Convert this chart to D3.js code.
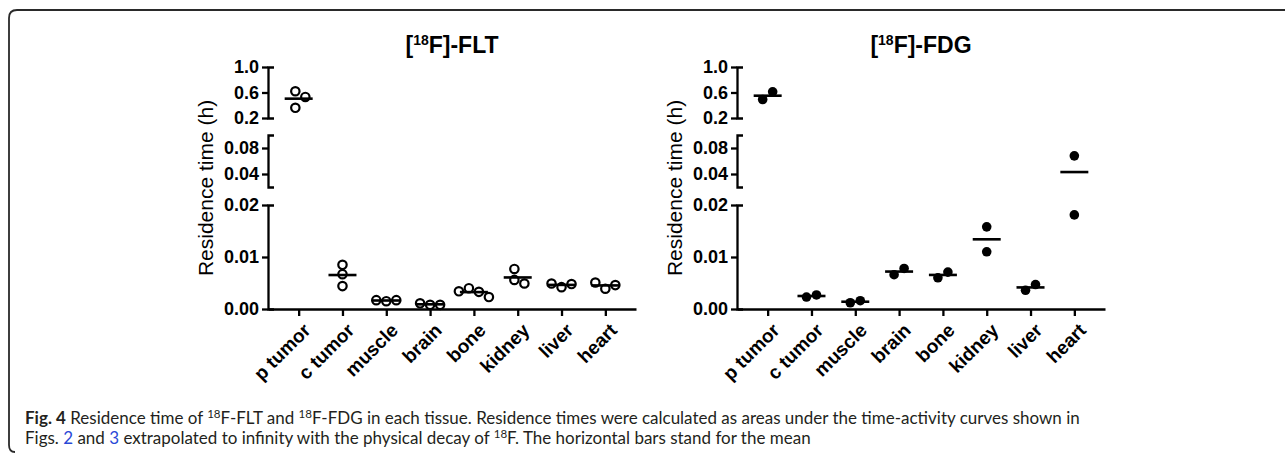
<!DOCTYPE html>
<html>
<head>
<meta charset="utf-8">
<script src="https://cdn.jsdelivr.net/npm/d3@7"></script>
<style>
    body { margin: 0; background: #ffffff; }
    svg { display: block; }
</style>
</head>
<body>
<svg id="figure" width="1285" height="453"></svg>
<script>
const tissues = ["p tumor", "c tumor", "muscle", "brain", "bone", "kidney", "liver", "heart"];

// residence time (h) per animal, one list per tissue
const fltValues = [
    [0.62, 0.53, 0.36],
    [0.0085, 0.0067, 0.0044],
    [0.0015, 0.0017, 0.0017],
    [0.0008, 0.0008, 0.0011],
    [0.0040, 0.0033, 0.0034, 0.0023],
    [0.0077, 0.0056, 0.0049],
    [0.0042, 0.0048, 0.0049],
    [0.0039, 0.0046, 0.0051]
];
const fdgValues = [
    [0.49, 0.61],
    [0.0023, 0.0027],
    [0.0012, 0.0016],
    [0.0066, 0.0078],
    [0.0060, 0.0071],
    [0.0158, 0.0110],
    [0.0036, 0.0047],
    [0.0181, 0.0679]
];

// the y axis is broken into three pieces
const segmentDomains = [[0, 0.02], [0.02, 0.1], [0.2, 1.0]];
const segmentTicks = [[0, 0.01, 0.02], [0.04, 0.08], [0.2, 0.6, 1.0]];
const segmentTickLabels = [["0.00", "0.01", "0.02"], ["0.04", "0.08"], ["0.2", "0.6", "1.0"]];

const panelTracers = ["FLT", "FDG"];
const yAxisTitle = "Residence time (h)";

const captionLines = [
    [["Fig. 4", "bold"], [" Residence time of ", ""], ["18", "sup"], ["F-FLT and ", ""], ["18", "sup"],
     ["F-FDG in each tissue. Residence times were calculated as areas under the time-activity curves shown in", ""]],
    [["Figs. ", ""], ["2", "link"], [" and ", ""], ["3", "link"], [" extrapolated to infinity with the physical decay of ", ""],
     ["18", "sup"], ["F. The horizontal bars stand for the mean", ""]]
];

const svg = d3.select("#figure");
const chartFont = "Liberation Sans, Arial, sans-serif";

// figure frame (rounded top-left corner, runs off to the right)
svg.append("path")
    .attr("d", "M1290,10 H17 Q9,10 9,18 V445 Q9,452 15,452")
    .attr("fill", "none")
    .attr("stroke", "#2a2a2a")
    .attr("stroke-width", 1.8);

const segmentRanges = [[309, 205], [187, 135], [118, 67]];
const segmentScales = segmentDomains.map((dom, i) => d3.scaleLinear().domain(dom).range(segmentRanges[i]));
const segmentOf = v => v <= 0.02 ? 0 : (v <= 0.1 ? 1 : 2);
const yPos = v => segmentScales[segmentOf(v)](v);

const dotRadius = 4.8;

// simple swarm: put each point at the centre unless it would overlap, then centre the group
const placeGroup = (vals, cx) => {
    const placed = [];
    vals.forEach(v => {
        const y = yPos(v);
        let off = 0;
        for (let k = 0; k < 20; k++) {
            const cand = k === 0 ? 0 : (k % 2 ? 1 : -1) * Math.ceil(k / 2) * 10;
            if (placed.every(p => Math.hypot(p.dx - cand, p.y - y) >= 9)) { off = cand; break; }
        }
        placed.push({ v: v, y: y, dx: off });
    });
    const shift = d3.mean(placed, p => p.dx);
    placed.forEach(p => p.x = cx + p.dx - shift);
    return placed;
};

const renderPanel = (tracer, values, left, filled) => {
    const right = left + 368;
    const chart = svg.append("g").attr("class", "panel-" + tracer);

    const xScale = d3.scalePoint().domain(tissues).range([left, right]).padding(0.7);

    // title with superscript
    const title = chart.append("text")
        .attr("x", (left + right) / 2)
        .attr("y", 53)
        .attr("text-anchor", "middle")
        .attr("font-family", chartFont)
        .attr("font-weight", "bold")
        .attr("font-size", 23);
    title.append("tspan").text("[");
    title.append("tspan").attr("font-size", 14).attr("dy", -8).text("18");
    title.append("tspan").attr("dy", 8).text("F]-" + tracer);

    // y axis segments
    segmentScales.forEach((scale, i) => {
        const axis = d3.axisLeft(scale)
            .tickValues(segmentTicks[i])
            .tickFormat((d, j) => segmentTickLabels[i][j])
            .tickSize(6)
            .tickSizeOuter(-6)
            .tickPadding(3);
        const g = chart.append("g")
            .attr("transform", `translate(${left},0)`)
            .call(axis);
        g.selectAll("path, line").attr("stroke", "#000").attr("stroke-width", 2.3);
        g.selectAll("text")
            .attr("font-family", chartFont)
            .attr("font-weight", "bold")
            .attr("font-size", 18)
            .attr("fill", "#000");
    });

    // x axis
    const xAxis = chart.append("g")
        .attr("transform", `translate(0,${segmentRanges[0][0]})`)
        .call(d3.axisBottom(xScale).tickSize(7).tickSizeOuter(0).tickPadding(4));
    xAxis.selectAll("path, line").attr("stroke", "#000").attr("stroke-width", 2.3);
    xAxis.selectAll("text")
        .attr("font-family", chartFont)
        .attr("font-weight", "bold")
        .attr("font-size", 19)
        .attr("fill", "#000")
        .attr("text-anchor", "end")
        .attr("dy", "0.35em")
        .attr("transform", "translate(0,10) rotate(-45)");

    // y axis title
    chart.append("text")
        .attr("transform", `translate(${left - 55},${188}) rotate(-90)`)
        .attr("text-anchor", "middle")
        .attr("font-family", chartFont)
        .attr("font-size", 21)
        .attr("fill", "#000")
        .text(yAxisTitle);

    // points
    const groups = values.map((vals, i) => ({
        tissue: tissues[i],
        mean: d3.mean(vals),
        points: placeGroup(vals, xScale(tissues[i]))
    }));

    chart.selectAll(".dot")
        .data(groups.flatMap(g => g.points))
        .join("circle")
        .attr("class", "dot")
        .attr("cx", d => d.x)
        .attr("cy", d => d.y)
        .attr("r", filled ? dotRadius : dotRadius - 0.6)
        .attr("fill", filled ? "#000" : "none")
        .attr("stroke", "#000")
        .attr("stroke-width", filled ? 0 : 2.2);

    chart.selectAll(".mean-line")
        .data(groups)
        .join("line")
        .attr("class", "mean-line")
        .attr("x1", d => xScale(d.tissue) - 14)
        .attr("x2", d => xScale(d.tissue) + 14)
        .attr("y1", d => yPos(d.mean))
        .attr("y2", d => yPos(d.mean))
        .attr("stroke", "#000")
        .attr("stroke-width", 2.6);
};

renderPanel(panelTracers[0], fltValues, 268, false);
renderPanel(panelTracers[1], fdgValues, 737, true);

// caption: size each line so it spans the same width as in the figure
const captionWidths = [1106, 860];
const baseSize = 16.5;
captionLines.forEach((parts, li) => {
    const t = svg.append("text")
        .attr("x", 25)
        .attr("y", 423.5 + li * 20.5)
        .attr("font-family", "Lato, Open Sans, sans-serif")
        .attr("font-size", baseSize)
        .attr("fill", "#231f20");
    let raised = false;
    parts.forEach(([str, kind]) => {
        const s = t.append("tspan").attr("class", kind).text(str);
        if (kind === "bold") s.attr("font-weight", "bold");
        if (kind === "link") s.attr("fill", "#2a48d6");
        if (kind === "sup") { s.attr("font-size", baseSize * 0.68).attr("dy", -6); raised = true; }
        else if (raised) { s.attr("dy", 6); raised = false; }
    });
    const k = Math.min(1.03, captionWidths[li] / t.node().getComputedTextLength());
    t.attr("font-size", baseSize * k);
    t.selectAll("tspan.sup").attr("font-size", baseSize * 0.68 * k);
});
</script>
</body>
</html>
